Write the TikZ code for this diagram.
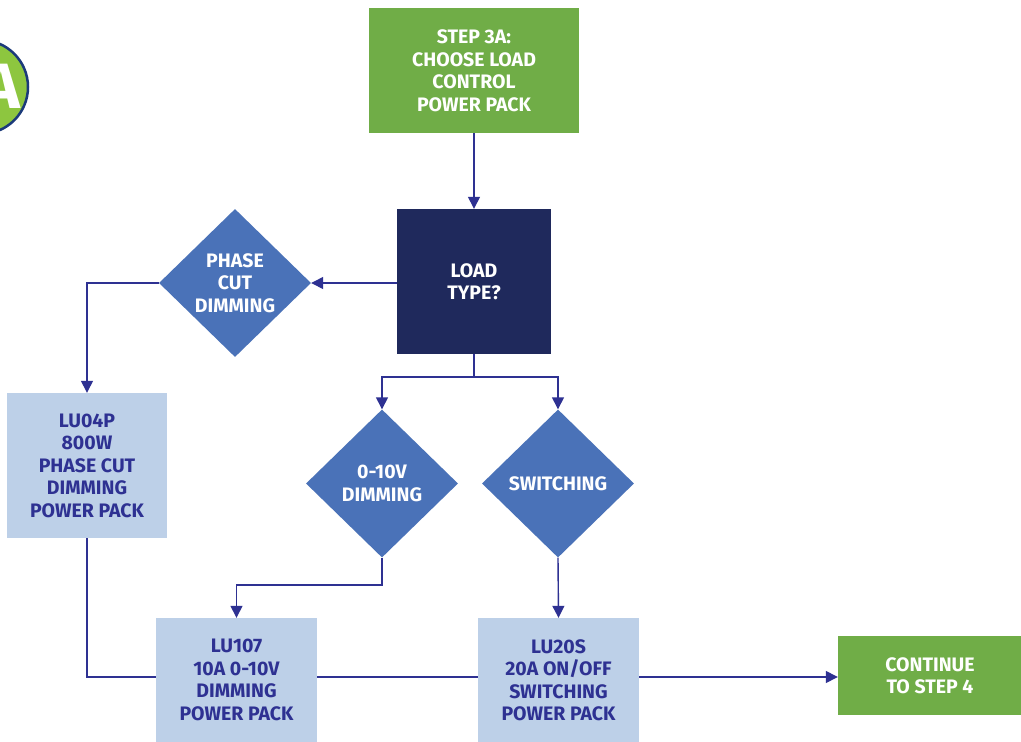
\documentclass[tikz,border=0pt]{standalone}
\usepackage{fontspec}
\setmainfont{Fira Sans}
\usetikzlibrary{shapes.geometric,arrows.meta}
\definecolor{stepgreen}{HTML}{70AD47}
\definecolor{navy}{HTML}{1F295C}
\definecolor{diablue}{HTML}{4A72B8}
\definecolor{lightblue}{HTML}{BDD0E8}
\definecolor{linkblue}{HTML}{2E3192}
\definecolor{badgegreen}{HTML}{8DC63F}
\definecolor{badgeborder}{HTML}{1B3A7A}
\tikzset{
  box/.style={draw=none,inner sep=0pt,align=center,font=\fontsize{19.5}{22.5}\selectfont\bfseries},
  greenbox/.style={box,fill=stepgreen,text=white},
  navybox/.style={box,fill=navy,text=white},
  packbox/.style={box,fill=lightblue,text=linkblue},
  dia/.style={shape=diamond,fill=diablue,inner sep=0pt,minimum width=152pt,minimum height=148pt},
  diatext/.style={align=center,text=white,inner sep=0pt,font=\fontsize{19.5}{22.5}\selectfont\bfseries},
  conn/.style={draw=linkblue,line width=1.4pt},
  arr/.style={conn,-{Triangle[length=12pt,width=12pt]}}
}
\begin{document}
\begin{tikzpicture}[x=1pt,y=-1pt]
\clip (0,0) rectangle (1021,742);
\fill[white] (0,0) rectangle (1021,742);
% badge
\node[circle,fill=badgegreen,draw=badgeborder,line width=2.5pt,minimum size=94pt,inner sep=0pt] (badge) at (-19,87) {};
\node[text=white,inner sep=0pt,font=\fontsize{64}{64}\selectfont\bfseries,anchor=base east] (badgetxt) at (20,108) {A};
% boxes
\node[greenbox,minimum width=210pt,minimum height=125pt] (step) at (474,70.5) {STEP 3A:\\CHOOSE LOAD\\CONTROL\\POWER PACK};
\node[navybox,minimum width=154pt,minimum height=145pt] (load) at (474,281.5) {LOAD\\TYPE?};
\node[dia] (pc) at (235,283) {};
\node[diatext] at (pc) {PHASE\\CUT\\DIMMING};
\node[dia] (zt) at (382,483.5) {};
\node[diatext] at (zt) {0-10V\\DIMMING};
\node[dia] (sw) at (558,483.5) {};
\node[diatext] at (sw) {SWITCHING};
\node[packbox,minimum width=160pt,minimum height=145pt] (lu04) at (87,465.5) {LU04P\\800W\\PHASE CUT\\DIMMING\\POWER PACK};
\node[packbox,minimum width=161pt,minimum height=124pt] (lu107) at (236.5,680) {LU107\\10A 0-10V\\DIMMING\\POWER PACK};
\node[packbox,minimum width=161pt,minimum height=124pt] (lu20) at (558.5,680) {LU20S\\20A ON/OFF\\SWITCHING\\POWER PACK};
\node[greenbox,minimum width=184pt,minimum height=79pt] (cont) at (930,675.5) {CONTINUE\\TO STEP 4};
% connectors
\coordinate (split) at (474,377);
\draw[arr] (step.south) -- (load.north);
\draw[arr] (load.west |- pc.east) -- (pc.east);
\draw[arr] (pc.west) -| (lu04.north);
\draw[conn] (load.south) -- (split);
\draw[arr] (split) -| (zt.north);
\draw[arr] (split) -| (sw.north);
\coordinate (ztbend) at (382,585);
\draw[arr] (zt.south) -- (ztbend) -| (lu107.north);
\draw[arr] (sw.south) -- (lu20.north);
\draw[conn] (lu04.south) |- (lu107.west |- 0,677);
\draw[conn] (lu107.east |- 0,677) -- (lu20.west |- 0,677);
\draw[arr] (lu20.east |- 0,677) -- (cont.west |- 0,677);
\end{tikzpicture}
\end{document}
